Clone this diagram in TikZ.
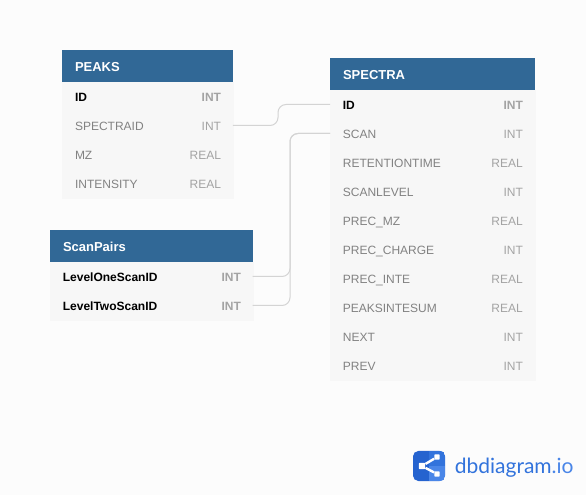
\documentclass[tikz,border=0pt]{standalone}
\usepackage{fontspec}
\setmainfont{Liberation Sans}
\newfontfamily\logofont{Lato}
\usetikzlibrary{positioning,calc,backgrounds}

\definecolor{headblue}{HTML}{316896}
\definecolor{rowgray}{HTML}{F7F7F7}
\definecolor{pagegray}{HTML}{FCFCFC}
\definecolor{nametext}{HTML}{828282}
\definecolor{typetext}{HTML}{A3A3A3}
\definecolor{linkgray}{HTML}{D4D4D4}
\definecolor{logoblue}{HTML}{2563CF}
\definecolor{logomid}{HTML}{3273DC}
\definecolor{logolight}{HTML}{4A86E8}

% field row: name on the left, type on the right
\newcommand{\field}[2]{#1\hfill{\color{typetext}#2}\hspace*{-0.75pt}}
\newcommand{\keyfield}[2]{{\bfseries\color{black}#1}\hfill{\bfseries\color{typetext}#2}\hspace*{-0.75pt}}

\begin{document}
\begin{tikzpicture}[
    x=0.75pt, y=-0.75pt,
    tablehead/.style={rectangle, fill=headblue, text=white, font=\fontsize{9.75}{12}\bfseries\selectfont, text height=9.5pt, text depth=1pt, minimum height=24pt, inner xsep=9.75pt, inner ysep=0pt, outer sep=0pt, anchor=north west, align=left},
    tablerow/.style={rectangle, fill=rowgray, draw=rowgray, line width=0.1pt, text=nametext, font=\fontsize{9}{11}\selectfont, text height=9pt, text depth=1pt, minimum height=21.75pt, inner xsep=0pt, inner ysep=0pt, outer sep=0pt, align=left},
    link/.style={draw=linkgray, line width=0.75pt, rounded corners=6pt},
    sharenode/.style={rectangle, fill=white, rounded corners=0.6pt, minimum size=4pt, inner sep=0pt}
]

% page
\fill[pagegray] (0,0) rectangle (586,495);
\useasboundingbox (0,0) rectangle (586,495);

% PEAKS
\node[tablehead, text width=108.75pt, minimum width=128pt] (peaks) at (62,50) {PEAKS};
\begin{scope}[tablerow/.append style={text width=108.75pt, minimum width=127.9pt}]
\node[tablerow, below=0pt of peaks] (peaksId) {\keyfield{ID}{INT}};
\node[tablerow, below=0pt of peaksId] (peaksSpectraid) {\field{SPECTRAID}{INT}};
\node[tablerow, below=0pt of peaksSpectraid] (peaksMz) {\field{MZ}{REAL}};
\node[tablerow, below=0pt of peaksMz] (peaksIntensity) {\field{INTENSITY}{REAL}};
\end{scope}

% SPECTRA
\node[tablehead, text width=134pt, minimum width=153.5pt] (spectra) at (330,58) {SPECTRA};
\begin{scope}[tablerow/.append style={text width=134.25pt, minimum width=153.4pt}]
\node[tablerow, below=0pt of spectra] (spectraId) {\keyfield{ID}{INT}};
\node[tablerow, below=0pt of spectraId] (spectraScan) {\field{SCAN}{INT}};
\node[tablerow, below=0pt of spectraScan] (spectraRt) {\field{RETENTIONTIME}{REAL}};
\node[tablerow, below=0pt of spectraRt] (spectraLevel) {\field{SCANLEVEL}{INT}};
\node[tablerow, below=0pt of spectraLevel] (spectraMz) {\field{PREC\_MZ}{REAL}};
\node[tablerow, below=0pt of spectraMz] (spectraCharge) {\field{PREC\_CHARGE}{INT}};
\node[tablerow, below=0pt of spectraCharge] (spectraInte) {\field{PREC\_INTE}{REAL}};
\node[tablerow, below=0pt of spectraInte] (spectraSum) {\field{PEAKSINTESUM}{REAL}};
\node[tablerow, below=0pt of spectraSum] (spectraNext) {\field{NEXT}{INT}};
\node[tablerow, below=0pt of spectraNext] (spectraPrev) {\field{PREV}{INT}};
\end{scope}

% ScanPairs
\node[tablehead, text width=132.5pt, minimum width=152pt] (pairs) at (50,230) {ScanPairs};
\begin{scope}[tablerow/.append style={text width=132.75pt, minimum width=151.9pt}]
\node[tablerow, below=0pt of pairs] (pairsOne) {\keyfield{LevelOneScanID}{INT}};
\node[tablerow, below=0pt of pairsOne] (pairsTwo) {\keyfield{LevelTwoScanID}{INT}};
\end{scope}

% links
\coordinate (bendPeaks) at (278,0);
\coordinate (bendPairs) at (290,0);
\draw[link] (peaksSpectraid.east) -- (peaksSpectraid.east -| bendPeaks) |- (spectraId.west);
\draw[link] (pairsOne.east) -- (pairsOne.east -| bendPairs) |- (spectraScan.west);
\draw[link] (pairsTwo.east) -- (pairsTwo.east -| bendPairs) |- (spectraScan.west);

% logo
\node[rectangle, fill=logoblue, rounded corners=4pt, minimum width=24pt, minimum height=22.5pt, inner sep=0pt] (logoBox) at (429,466) {};
\begin{scope}
\clip[rounded corners=4pt] (logoBox.south west) rectangle (logoBox.north east);
\fill[logomid] (logoBox.north) rectangle (logoBox.east);
\fill[logolight] (logoBox.center) rectangle (logoBox.south east);
\end{scope}
\node[sharenode, minimum size=4.8pt] (shareHub) at (422,466) {};
\node[sharenode] (shareTop) at (437,457) {};
\node[sharenode] (shareBot) at (437,474) {};
\draw[white, line width=1.8pt] (shareTop) -- (shareHub) -- (shareBot);
\node[right=7pt of logoBox, inner sep=0pt, yshift=-1pt, font=\logofont\fontsize{15.75}{18}\selectfont, text=logomid] (logoText) {dbdiagram\textcolor{logolight}{.io}};

\end{tikzpicture}
\end{document}
